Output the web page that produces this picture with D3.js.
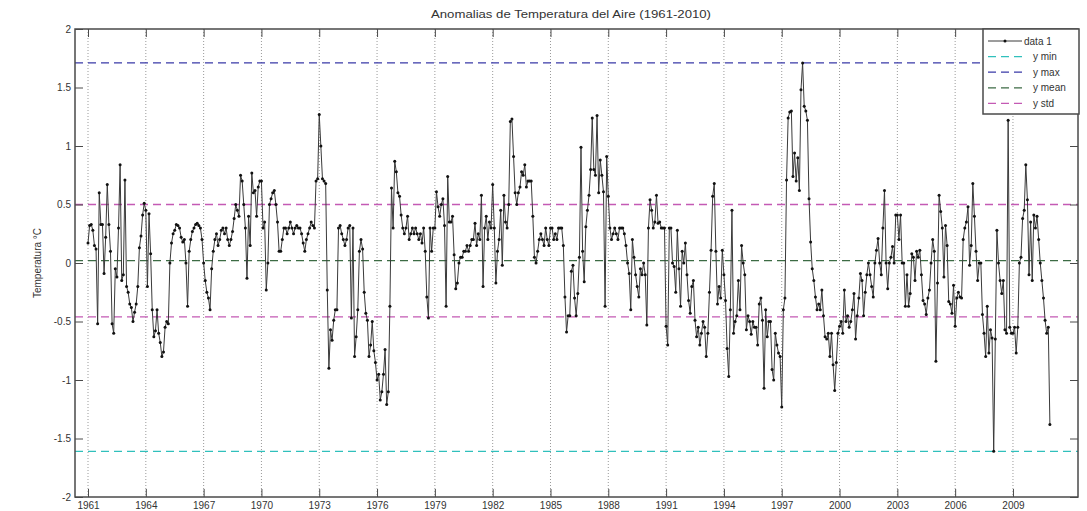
<!DOCTYPE html>
<html>
<head>
<meta charset="utf-8">
<script src="https://cdn.jsdelivr.net/npm/d3@7"></script>
<style>
  body { margin: 0; background: #fff; }
  svg { display: block; font-family: "Liberation Sans", Arial, sans-serif; }
</style>
</head>
<body>
<svg id="chart" width="1087" height="511"></svg>
<script>
// ---- data: monthly air temperature anomalies (°C), Jan 1961 .. Dec 2010 ----
const startYear = 1961;
const anomalies = [
  0.17, 0.32, 0.33, 0.28, 0.15, 0.12, -0.52, 0.60, 0.33, 0.33, -0.09, 0.22,   // 1961
  0.67, 0.33, 0.10, -0.52, -0.60, -0.05, -0.12, 0.30, 0.84, -0.15, -0.10, 0.71, // 1962
  -0.20, -0.25, -0.35, -0.38, -0.50, -0.42, -0.35, -0.20, 0.13, 0.23, 0.41, 0.51, // 1963
  0.45, -0.20, 0.42, 0.08, -0.40, -0.63, -0.58, -0.40, -0.60, -0.68, -0.80, -0.76, // 1964
  -0.55, -0.50, -0.52, 0.00, 0.17, 0.25, 0.28, 0.33, 0.32, 0.30, 0.22, 0.18,   // 1965
  0.20, 0.00, -0.37, 0.10, 0.20, 0.27, 0.30, 0.33, 0.34, 0.32, 0.30, 0.20,     // 1966
  0.00, -0.15, -0.25, -0.30, -0.40, -0.05, 0.10, 0.20, 0.25, 0.15, 0.20, 0.28, // 1967
  0.30, 0.25, 0.30, 0.20, 0.15, 0.20, 0.27, 0.38, 0.50, 0.45, 0.40, 0.75,      // 1968
  0.70, 0.50, 0.30, -0.13, 0.40, 0.15, 0.77, 0.60, 0.62, 0.40, 0.65, 0.70,     // 1969
  0.70, 0.30, 0.35, -0.23, 0.00, 0.50, 0.55, 0.60, 0.62, 0.50, 0.35, 0.10,     // 1970
  0.10, 0.20, 0.30, 0.30, 0.25, 0.30, 0.35, 0.30, 0.25, 0.30, 0.32, 0.30,      // 1971
  0.30, 0.25, 0.17, 0.10, 0.20, 0.25, 0.30, 0.35, 0.32, 0.30, 0.70, 0.72,      // 1972
  1.27, 1.00, 0.72, 0.70, 0.68, -0.23, -0.90, -0.57, -0.66, -0.49, -0.40, -0.40, // 1973
  0.30, 0.32, 0.25, 0.20, 0.15, 0.20, 0.30, 0.32, -0.47, 0.30, -0.80, -0.63,   // 1974
  -0.40, 0.10, 0.20, 0.12, -0.25, -0.43, -0.49, -0.80, -0.70, -0.50, -0.75, -0.85, // 1975
  -1.00, -0.95, -1.17, -1.10, -0.95, -0.74, -1.21, -1.10, -0.37, 0.64, 0.30, 0.87, // 1976
  0.78, 0.60, 0.57, 0.41, 0.30, 0.25, 0.30, 0.40, 0.20, 0.25, 0.30, 0.25,      // 1977
  0.30, 0.25, 0.20, 0.25, 0.17, 0.30, 0.10, -0.29, -0.47, 0.30, 0.10, 0.30,    // 1978
  0.30, 0.61, 0.48, 0.40, 0.50, 0.55, 0.32, -0.37, 0.74, 0.35, 0.35, 0.40,     // 1979
  0.07, -0.22, -0.17, 0.00, 0.05, 0.05, 0.10, 0.10, 0.15, 0.10, 0.15, 0.20,    // 1980
  0.20, 0.34, 0.15, 0.25, 0.20, 0.58, -0.20, 0.30, 0.40, 0.20, 0.35, 0.30,     // 1981
  0.67, 0.30, -0.17, 0.10, 0.20, 0.45, -0.02, 0.58, 0.35, 0.30, 0.50, 1.21,    // 1982
  1.23, 0.91, 0.60, 0.50, 0.60, 0.65, 0.78, 0.75, 0.84, 0.65, 0.70, 0.70,      // 1983
  0.70, 0.40, 0.05, 0.00, 0.10, 0.20, 0.25, 0.20, 0.15, 0.30, 0.20, 0.15,      // 1984
  0.30, 0.30, 0.20, 0.25, 0.20, 0.30, 0.30, 0.30, 0.15, -0.29, -0.59, -0.45,   // 1985
  -0.45, -0.07, -0.02, -0.30, -0.45, -0.26, 0.05, 0.99, 0.10, -0.16, 0.31, 0.45, // 1986
  0.58, 0.80, 1.24, 0.80, 0.75, 1.26, 0.60, 0.88, 0.75, 0.61, -0.37, 0.91,     // 1987
  0.57, 0.30, 0.20, 0.25, 0.30, 0.25, 0.20, 0.30, 0.30, 0.30, 0.25, 0.15,      // 1988
  0.00, -0.09, -0.40, 0.20, 0.05, -0.10, -0.20, -0.29, -0.05, -0.10, 0.00, -0.10, // 1989
  -0.53, 0.30, 0.54, 0.45, 0.30, 0.35, 0.58, 0.34, 0.35, 0.30, 0.30, 0.30,     // 1990
  -0.54, -0.70, 0.30, 0.30, 0.00, -0.03, -0.25, 0.28, -0.05, -0.37, 0.10, 0.00, // 1991
  0.17, -0.10, -0.32, -0.43, -0.20, -0.15, -0.49, -0.63, -0.55, -0.70, -0.60, -0.50, // 1992
  -0.55, -0.80, -0.60, -0.25, 0.11, 0.57, 0.68, 0.10, -0.35, -0.20, -0.30, 0.11, // 1993
  -0.10, -0.32, -0.73, -0.97, -0.40, 0.45, -0.60, -0.50, -0.45, -0.15, -0.40, 0.15, // 1994
  0.00, -0.10, -0.57, -0.45, -0.50, -0.61, -0.50, -0.55, -0.55, -0.70, -0.35, -0.30, // 1995
  -0.49, -1.07, -0.40, -0.63, -0.50, -0.50, -0.91, -1.00, -0.60, -0.70, -0.77, -0.80, // 1996
  -1.23, -0.40, -0.30, 0.71, 1.24, 1.29, 1.30, 0.74, 0.94, 0.70, 0.90, 0.62,   // 1997
  1.48, 1.71, 1.34, 1.30, 1.22, 0.55, 0.18, -0.05, -0.15, -0.29, -0.40, -0.35, // 1998
  -0.40, -0.23, -0.45, -0.63, -0.65, -0.60, -0.80, -0.60, -0.87, -1.09, -0.85, -0.60, // 1999
  -0.54, -0.50, -0.60, -0.23, -0.50, -0.45, -0.55, -0.50, -0.40, -0.26, -0.65, -0.45, // 2000
  -0.30, -0.09, -0.15, -0.45, -0.25, -0.10, 0.00, -0.10, -0.20, -0.29, 0.00, 0.11, // 2001
  0.21, 0.00, -0.10, 0.30, 0.62, 0.00, -0.22, 0.00, 0.05, 0.14, 0.00, 0.41,    // 2002
  0.41, 0.20, 0.41, 0.00, 0.00, -0.37, -0.10, -0.37, -0.26, 0.08, 0.05, -0.15, // 2003
  0.10, 0.05, 0.11, -0.10, -0.32, -0.35, -0.44, -0.30, -0.23, 0.00, 0.20, 0.10, // 2004
  -0.84, -0.17, 0.58, 0.44, 0.30, -0.12, 0.32, 0.15, -0.33, -0.35, -0.43, -0.19, // 2005
  -0.54, -0.30, -0.25, -0.29, -0.30, 0.20, 0.30, 0.35, 0.48, -0.02, 0.15, 0.68, // 2006
  0.40, 0.10, -0.15, 0.00, 0.00, -0.44, -0.60, -0.80, -0.37, -0.77, -0.57, -0.64, // 2007
  -1.61, -0.65, 0.28, 0.00, -0.15, -0.26, -0.15, -0.57, -0.60, 1.22, -0.55, -0.60, // 2008
  -0.60, -0.55, -0.77, -0.55, 0.00, 0.05, 0.38, 0.45, 0.84, 0.54, -0.10, 0.35, // 2009
  -0.15, 0.41, 0.30, 0.40, 0.20, 0.00, -0.15, -0.30, -0.49, -0.60, -0.55, -1.38 // 2010
];

// statistics lines (as shown on the figure)
const statLabels = ["y min", "y max", "y mean", "y std"];
const statValues = { "y min": [-1.61], "y max": [1.71], "y mean": [0.02], "y std": [0.50, -0.46] };
const statColors = { "y min": "#30c0bc", "y max": "#3a3aa8", "y mean": "#3c6b44", "y std": "#c45ab4" };

const xTickYears = d3.range(1961, 2010, 3);
const yTicks = [-2, -1.5, -1, -0.5, 0, 0.5, 1, 1.5, 2];
const titleText = "Anomalias de Temperatura del Aire (1961-2010)";
const yLabelText = "Temperatura °C";
const seriesLabel = "data 1";

// ---- layout ----
const svg = d3.select("#chart");
const PL = 75, PR = 1078, PT = 29, PB = 497;
const xs = d3.scaleLinear().domain([1960.325, 2012.375]).range([PL, PR]);
const ys = d3.scaleLinear().domain([-2, 2]).range([PB, PT]);
const axisColor = "#4a4a4a";
const textColor = "#333";

// grid (vertical dotted)
svg.append("g").selectAll("line").data(xTickYears).join("line")
  .attr("x1", d => xs(d)).attr("x2", d => xs(d))
  .attr("y1", PT).attr("y2", PB)
  .attr("stroke", "#9a9a9a").attr("stroke-width", 1)
  .attr("stroke-dasharray", "1,2");

// stat lines
const statG = svg.append("g");
statLabels.forEach(k => {
  statValues[k].forEach(v => {
    statG.append("line")
      .attr("x1", PL).attr("x2", PR)
      .attr("y1", ys(v)).attr("y2", ys(v))
      .attr("stroke", statColors[k]).attr("stroke-width", 1.3)
      .attr("stroke-dasharray", "8,5");
  });
});

// data series
const pts = anomalies.map((v, i) => ({ t: startYear + i / 12, v }));
svg.append("path").datum(pts)
  .attr("fill", "none").attr("stroke", "#3a3a3a").attr("stroke-width", 1)
  .attr("d", d3.line().x(d => xs(d.t)).y(d => ys(d.v)));
svg.append("g").selectAll("circle").data(pts).join("circle")
  .attr("cx", d => xs(d.t)).attr("cy", d => ys(d.v)).attr("r", 1.5)
  .attr("fill", "#111");

// axes (MATLAB style: inward ticks on all sides)
const tickLen = 8;
const axLeft = d3.axisLeft(ys).tickValues(yTicks).tickSize(-tickLen).tickPadding(4)
  .tickFormat(d => String(d));
const axRight = d3.axisRight(ys).tickValues(yTicks).tickSize(-tickLen).tickFormat("");
const axBottom = d3.axisBottom(xs).tickValues(xTickYears).tickSize(-tickLen).tickPadding(5)
  .tickFormat(d => String(d));
const axTop = d3.axisTop(xs).tickValues(xTickYears).tickSize(-tickLen).tickFormat("");

function styleAxis(g) {
  g.select(".domain").remove();
  g.selectAll(".tick line").attr("stroke", axisColor).attr("stroke-width", 1);
  g.selectAll(".tick text").attr("fill", textColor).style("font-size", "10px")
    .style("font-family", "'Liberation Sans', Arial, sans-serif");
}
svg.append("g").attr("transform", `translate(${PL},0)`).call(axLeft).call(styleAxis);
svg.append("g").attr("transform", `translate(${PR},0)`).call(axRight).call(styleAxis);
svg.append("g").attr("transform", `translate(0,${PB})`).call(axBottom).call(styleAxis);
svg.append("g").attr("transform", `translate(0,${PT})`).call(axTop).call(styleAxis);

// box
svg.append("rect").attr("x", PL).attr("y", PT).attr("width", PR - PL).attr("height", PB - PT)
  .attr("fill", "none").attr("stroke", axisColor).attr("stroke-width", 1.5);

// title and y label
svg.append("text").attr("x", 571).attr("y", 18).attr("text-anchor", "middle")
  .attr("fill", textColor).style("font-size", "10.5px")
  .attr("textLength", 280).attr("lengthAdjust", "spacingAndGlyphs")
  .text(titleText);
svg.append("text").attr("transform", `translate(41,${ys(0)}) rotate(-90)`)
  .attr("text-anchor", "middle").attr("fill", textColor).style("font-size", "10px")
  .text(yLabelText);

// legend
const lg = svg.append("g");
const lx = 983, ly = 29, lw = 96, lh = 85;
lg.append("rect").attr("x", lx).attr("y", ly).attr("width", lw).attr("height", lh)
  .attr("fill", "#fff").attr("stroke", axisColor).attr("stroke-width", 1.5);
const entries = [seriesLabel].concat(statLabels);
entries.forEach((name, i) => {
  const cy = ly + 12 + i * 15.6;
  if (i === 0) {
    lg.append("line").attr("x1", lx + 5).attr("x2", lx + 39).attr("y1", cy).attr("y2", cy)
      .attr("stroke", "#3a3a3a").attr("stroke-width", 1);
    lg.append("circle").attr("cx", lx + 22).attr("cy", cy).attr("r", 1.5).attr("fill", "#111");
  } else {
    lg.append("line").attr("x1", lx + 5).attr("x2", lx + 39).attr("y1", cy).attr("y2", cy)
      .attr("stroke", statColors[name]).attr("stroke-width", 1.3).attr("stroke-dasharray", "8,5");
  }
  lg.append("text").attr("x", i === 0 ? lx + 41 : lx + 50).attr("y", cy + 3.5)
    .attr("fill", textColor).style("font-size", "10px").text(name);
});
</script>
</body>
</html>
